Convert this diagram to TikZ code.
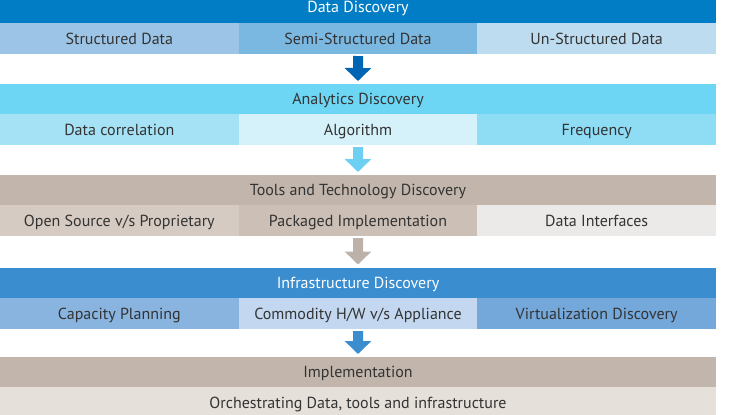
\documentclass[tikz,border=0pt]{standalone}
\usepackage{fontspec}
\setmainfont{PT Sans}
\usetikzlibrary{arrows.meta}

% band palettes
\definecolor{ink}{HTML}{333333}
\definecolor{dataH}{HTML}{007DC5}
\definecolor{dataA}{HTML}{9CC4E6}
\definecolor{dataB}{HTML}{7AB8E2}
\definecolor{dataC}{HTML}{BEDCF0}
\definecolor{dataArr}{HTML}{0066B3}
\definecolor{anaH}{HTML}{6ED6F5}
\definecolor{anaA}{HTML}{A6E2F5}
\definecolor{anaB}{HTML}{D5F2FB}
\definecolor{anaC}{HTML}{8FDCF5}
\definecolor{anaArr}{HTML}{6DD0F3}
\definecolor{toolH}{HTML}{C2B6AC}
\definecolor{toolA}{HTML}{D5CBC3}
\definecolor{toolB}{HTML}{CBBFB6}
\definecolor{toolC}{HTML}{ECEAE8}
\definecolor{toolArr}{HTML}{BCB2AA}
\definecolor{infH}{HTML}{3A8DCF}
\definecolor{infA}{HTML}{89B4E0}
\definecolor{infB}{HTML}{C3D8F0}
\definecolor{infC}{HTML}{74A8DB}
\definecolor{impH}{HTML}{C2B6AC}
\definecolor{impA}{HTML}{E6E0DB}

\begin{document}
\begin{tikzpicture}[x=1pt,y=-1pt,
  cell/.style={draw=none, inner sep=0pt, outer sep=0pt, anchor=north west,
    minimum height=31pt, minimum width=238.67pt, text=ink,
    font=\fontsize{16}{19}\selectfont, text height=12.5pt, text depth=1.5pt},
  head/.style={cell, minimum width=716pt, minimum height=30.5pt},
  wide/.style={cell, minimum width=716pt},
  flow/.style={line width=10pt, -{Triangle[width=26pt,length=13pt]},
    shorten <=2pt, shorten >=3pt}]
\useasboundingbox (0,0) rectangle (729,415);
\clip (0,0) rectangle (729,415);

% Data Discovery
\node[head, fill=dataH, text=white] (h1) at (0,-8) {Data Discovery};
\node[cell, fill=dataA] (a1) at (0,23) {Structured Data};
\node[cell, fill=dataB] (b1) at (238.67,23) {Semi-Structured Data};
\node[cell, fill=dataC] (c1) at (477.33,23) {Un-Structured Data};

% Analytics Discovery
\node[head, fill=anaH] (h2) at (0,84) {Analytics Discovery};
\node[cell, fill=anaA] (a2) at (0,114) {Data correlation};
\node[cell, fill=anaB] (b2) at (238.67,114) {Algorithm};
\node[cell, fill=anaC] (c2) at (477.33,114) {Frequency};

% Tools and Technology Discovery
\node[head, fill=toolH] (h3) at (0,175) {Tools and Technology Discovery};
\node[cell, fill=toolA] (a3) at (0,205) {Open Source v/s Proprietary};
\node[cell, fill=toolB] (b3) at (238.67,205) {Packaged Implementation};
\node[cell, fill=toolC] (c3) at (477.33,205) {Data Interfaces};

% Infrastructure Discovery
\node[head, fill=infH, text=white] (h4) at (0,267.5) {Infrastructure Discovery};
\node[cell, fill=infA] (a4) at (0,298) {Capacity Planning};
\node[cell, fill=infB] (b4) at (238.67,298) {Commodity H/W v/s Appliance};
\node[cell, fill=infC] (c4) at (477.33,298) {Virtualization Discovery};

% Implementation
\node[head, fill=impH] (h5) at (0,357) {Implementation};
\node[wide, fill=impA] (a5) at (0,387) {Orchestrating Data, tools and infrastructure};

% stage-to-stage arrows
\draw[flow, draw=dataArr, fill=dataArr] (b1.south) -- (h2.north);
\draw[flow, draw=anaArr, fill=anaArr] (b2.south) -- (h3.north);
\draw[flow, draw=toolArr, fill=toolArr] (b3.south) -- (h4.north);
\draw[flow, draw=infH, fill=infH] (b4.south) -- (h5.north);
\end{tikzpicture}
\end{document}
